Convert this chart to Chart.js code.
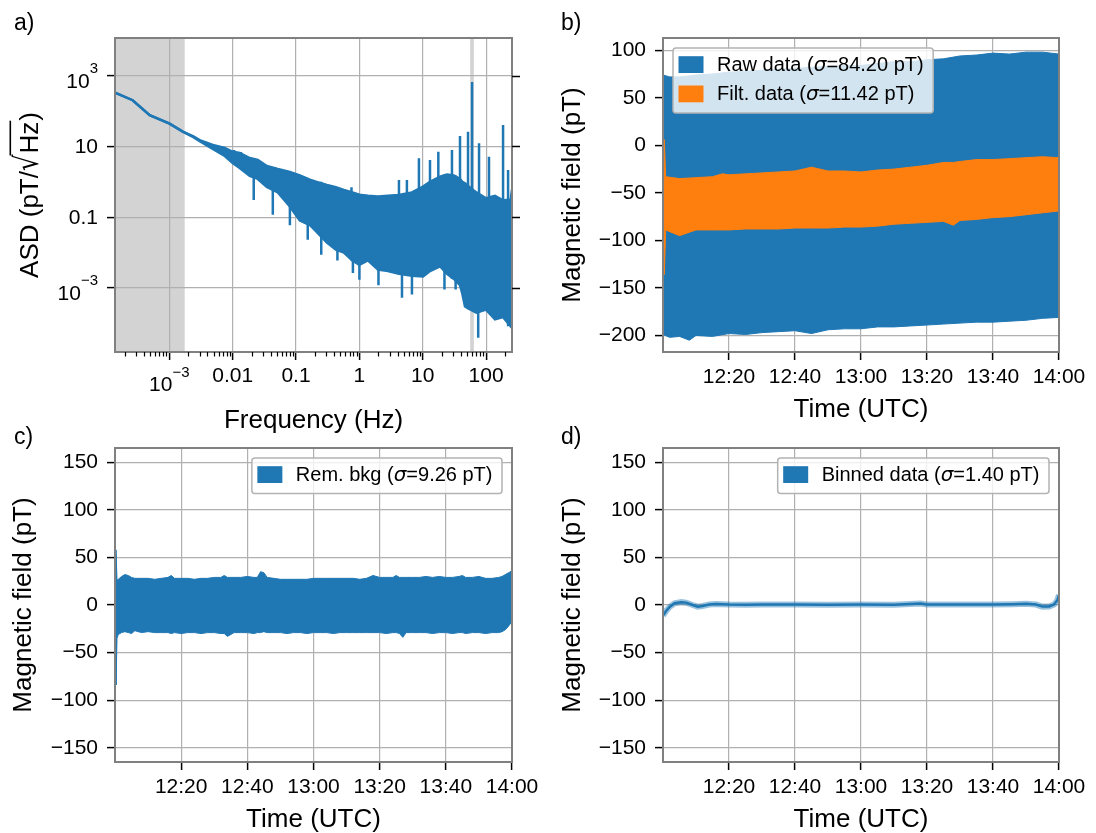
<!DOCTYPE html>
<html>
<head>
<meta charset="utf-8">
<script src="https://cdn.jsdelivr.net/npm/chart.js@4.4.1/dist/chart.umd.min.js"></script>
<style>
  body { margin: 0; background: #fff; }
  #fig { position: relative; width: 1096px; height: 833px; }
  #fig canvas { position: absolute; }
</style>
</head>
<body>
<div id="fig">
  <canvas id="panelA" width="548" height="440" style="left:0;top:0"></canvas>
  <canvas id="panelB" width="548" height="440" style="left:548px;top:0"></canvas>
  <canvas id="panelC" width="548" height="417" style="left:0;top:416px"></canvas>
  <canvas id="panelD" width="548" height="417" style="left:548px;top:416px"></canvas>
</div>
<script>
const BLUE = "#1f77b4";
const ORANGE = "#ff7f0e";
const FONT = '"Liberation Sans", Arial, sans-serif';

// a) amplitude spectral density: band envelope, narrow peaks and dips
const asdFreq  = [1.39e-4, 2.64e-4, 4.9e-4, 1.01e-3, 1.63e-3, 2.4e-3, 3.02e-3, 4.85e-3, 7.5e-3, 0.01,
                  0.0129, 0.0186, 0.0249, 0.0346, 0.0516, 0.0798, 0.1148, 0.165, 0.206, 0.307,
                  0.425, 0.569, 0.774, 1.0, 1.36, 1.96, 2.82, 4.21, 6.75, 10.1,
                  13.0, 18.7, 24.1, 31, 38.7, 42, 46.4, 55, 70, 99.6, 138, 185, 244, 256];
const asdUpper = [327, 201, 76, 43.9, 26.1, 19, 15.0, 10.9, 8.95, 7.0,
                  6.5, 4.68, 4.11, 2.79, 2.30, 1.9, 1.5, 1.15, 1.0, 0.81,
                  0.7, 0.59, 0.5, 0.43, 0.4, 0.38, 0.4, 0.42, 0.5, 0.73,
                  1.0, 1.39, 1.6, 1.5, 1.2, 1.0, 0.9, 0.7, 0.5, 0.34, 0.4, 0.3, 0.31, 0.6];
const asdLower = [327, 201, 76, 43.9, 26.1, 18.2, 14.0, 8.4, 5.33, 3.39,
                  2.45, 1.46, 1.2, 0.714, 0.5, 0.2, 0.08, 0.06, 0.04, 0.019,
                  0.012, 0.0099, 0.006, 0.0045, 0.006, 0.0033, 0.003, 0.0025, 0.0022, 0.0021,
                  0.003, 0.0041, 0.0025, 0.0018, 0.0012, 7e-4, 3.0e-4, 2.5e-4, 2e-4, 2.45e-4, 1.3e-4, 1.5e-4, 8.3e-5, 1.5e-4];
const peakFreq = [0.0105, 0.0135, 0.75, 4.21, 5.62, 8.7, 13.0, 17.6, 28.9, 38.7, 51.8, 60, 77.3, 111, 185, 222];
const peakTop  = [7.9, 6.9, 0.7, 1.12, 1.12, 4.59, 4.11, 7.05, 7.87, 19.5, 25.8, 661, 12.2, 5.09, 39.8, 2.15];
const dipFreq   = [0.0215, 0.043, 0.08, 0.153, 0.25, 0.45, 0.79, 1.0, 2.0, 4.7, 6.75, 22, 33, 75];
const dipBottom = [0.307, 0.116, 0.059, 0.023, 0.0087, 0.006, 0.00265, 0.0017, 0.0012, 5.3e-4, 6.5e-4, 9e-4, 9e-4, 3.9e-5];
const asdXTicks = [1e-3, 0.01, 0.1, 1, 10, 100];
const asdYTicks = [1e3, 10, 0.1, 1e-3];
const minorSteps = [2, 3, 4, 5, 6, 7, 8, 9];
const excludedBands = [[1.39e-4, 1.75e-3], [56, 64]];

// b) raw and filtered field, minutes after 12:00
const rawMinutes = [0, 2, 5, 8, 10, 15, 20, 25, 30, 35, 40, 45, 50, 55, 60, 65, 70, 75, 80, 85, 90, 95, 100, 105, 110, 115, 120];
const rawUpper   = [74, 72, 72, 73, 74, 75, 77, 78, 79, 80, 81, 82, 83, 84, 84, 86, 88, 88, 90, 91, 94, 95, 97, 96, 98, 98, 96];
const rawLower   = [-199, -202, -201, -205, -200, -201, -198, -199, -197, -196, -195, -198, -194, -193, -193, -191, -191, -190, -189, -188, -187, -186, -186, -185, -184, -182, -181];
const filtMinutes = [0, 0.4, 0.8, 5, 10, 15, 18, 20, 25, 30, 35, 40, 45, 50, 55, 60, 65, 70, 75, 80, 85, 88, 90, 95, 100, 105, 110, 115, 120];
const filtUpper   = [-33, 6, -33, -35, -34, -33, -30, -31, -30, -29, -28, -27, -23, -27, -27, -28, -26, -25, -23, -21, -18, -18, -17, -15, -15, -14, -13, -12, -13];
const filtLower   = [-89, -136, -89, -95, -89, -89, -89, -89, -88, -88, -88, -87, -87, -87, -86, -86, -85, -83, -82, -81, -80, -84, -79, -78, -76, -75, -73, -71, -69];

// c) remaining background
const remMinutes = [0, 0.3, 0.6, 1, 2, 3, 4, 5, 6, 8, 10, 12, 14, 16, 17, 18, 20, 22, 24, 26, 28,
                    30, 32, 33, 34, 36, 38, 40, 42, 43, 44, 45, 46, 48, 50, 52, 54, 56, 58, 60, 62,
                    64, 66, 68, 70, 72, 74, 76, 78, 80, 82, 84, 85, 86, 87, 88, 90, 92, 94, 96, 98,
                    100, 102, 104, 105, 106, 108, 110, 112, 114, 116, 117, 118, 119, 120];
const remUpper   = [26, 58, 26, 27, 30, 32, 31, 29, 28, 28, 28, 27, 28, 29, 31, 28, 28, 28, 27, 28, 28,
                    29, 29, 31, 29, 29, 29, 30, 29, 29, 35, 34, 29, 28, 27, 27, 27, 27, 27, 28, 28,
                    28, 28, 28, 28, 28, 27, 28, 31, 29, 29, 29, 31, 29, 29, 29, 29, 29, 30, 29, 30,
                    29, 29, 30, 31, 29, 29, 30, 28, 28, 29, 30, 32, 34, 36];
const remLower   = [-35, -84, -35, -31, -29, -28, -29, -30, -27, -29, -28, -29, -29, -29, -30, -29, -30, -29, -29, -30, -29,
                    -29, -30, -30, -33, -29, -29, -29, -30, -29, -29, -28, -29, -29, -29, -30, -29, -29, -30, -29, -29,
                    -29, -30, -29, -29, -29, -29, -29, -29, -29, -30, -29, -29, -30, -34, -29, -29, -29, -29, -30, -29,
                    -29, -30, -29, -29, -30, -29, -29, -30, -29, -29, -28, -26, -22, -17];

// d) binned data
const binMinutes = [0, 1, 2, 3.5, 5.5, 7, 9, 10.5, 12, 14, 16, 20, 25, 30, 40, 50, 60, 70, 78, 80, 90, 100, 106, 110, 113, 115, 117, 118.5, 119.5, 120];
const binValues  = [-11, -6, -2, 1.8, 3, 2.5, 0, -1.7, -1, 0.5, 1, 0.5, 0.3, 0.6, 0.6, 0.3, 0.5, 0.3, 1.5, 0.5, 0.6, 0.5, 0.8, 1.2, 0.5, -1.7, -1.5, 0.5, 5, 10.5];

const timeTicks = [20, 40, 60, 80, 100, 120];
const timeTickLabels = ["12:20", "12:40", "13:00", "13:20", "13:40", "14:00"];
const fieldTicksB = [-200, -150, -100, -50, 0, 50, 100];
const fieldTicksCD = [-150, -100, -50, 0, 50, 100, 150];

Chart.defaults.font.family = FONT;
Chart.defaults.color = "#000";

const pts = (xs, ys) => xs.map((x, i) => ({ x: x, y: ys[i] }));

function nearest(f) {
  let best = 0;
  asdFreq.forEach((g, i) => {
    if (Math.abs(Math.log(g / f)) < Math.abs(Math.log(asdFreq[best] / f))) best = i;
  });
  return best;
}

// vertical strokes, separated by gaps
function strokes(freqs, ends, other) {
  const out = [];
  freqs.forEach((f, i) => {
    out.push({ x: f, y: ends[i] }, { x: f, y: other[nearest(f)] }, { x: f, y: null });
  });
  return out;
}

const gridStyle = { color: "#b0b0b0", lineWidth: 1.2, tickColor: "#000", tickWidth: 1.5, tickLength: 8 };

function timeAxis(h) {
  return {
    type: "linear", min: 0, max: 120,
    afterBuildTicks: s => { s.ticks = timeTicks.map(v => ({ value: v })); },
    afterFit: s => { s.height = h; },
    ticks: { font: { size: 21 }, color: "#000", padding: 5, maxRotation: 0, autoSkip: false,
             callback: v => timeTickLabels[timeTicks.indexOf(v)] },
    grid: gridStyle,
    border: { display: false }
  };
}

function fieldAxis(min, max, values) {
  return {
    type: "linear", min: min, max: max,
    afterBuildTicks: s => { s.ticks = values.map(v => ({ value: v })); },
    afterFit: s => { s.width = 115; },
    ticks: { font: { size: 21 }, color: "#000", padding: 9,
             callback: v => String(v).replace("-", "\u2212") },
    grid: gridStyle,
    border: { display: false }
  };
}

function drawLabelWithSigma(ctx, text, x, y) {
  const parts = text.split("\u03c3");
  ctx.font = "20px " + FONT;
  ctx.fillText(parts[0], x, y);
  let w = ctx.measureText(parts[0]).width;
  if (parts.length > 1) {
    ctx.font = 'italic 20px "DejaVu Sans", ' + FONT;
    ctx.fillText("\u03c3", x + w, y);
    w += ctx.measureText("\u03c3").width;
    ctx.font = "20px " + FONT;
    ctx.fillText(parts[1], x + w, y);
    w += ctx.measureText(parts[1]).width;
  }
  return w;
}

function measureSigma(ctx, text) {
  ctx.save();
  ctx.globalAlpha = 0;
  const w = drawLabelWithSigma(ctx, text, -1000, -1000);
  ctx.restore();
  return w;
}

function drawSci(ctx, v, x, y, axis) {
  const e = Math.round(Math.log10(v));
  const sup = String(e).replace("-", "\u2212");
  ctx.font = "21px " + FONT;
  const wb = ctx.measureText("10").width;
  ctx.font = "15px " + FONT;
  const ws = ctx.measureText(sup).width;
  ctx.textAlign = "left";
  ctx.textBaseline = "alphabetic";
  let x0, yb, ys;
  if (axis === "x") { x0 = x - (wb + ws) / 2; yb = y + 39; ys = y + 25; }
  else { x0 = x - wb - ws; yb = y + 12; ys = y - 3; }
  ctx.font = "21px " + FONT;
  ctx.fillText("10", x0, yb);
  ctx.font = "15px " + FONT;
  ctx.fillText(sup, x0 + wb, ys);
}

// frame, extra ticks, titles, legend and panel letter
function decor(cfg) {
  return {
    id: "decor",
    beforeDraw(chart) {
      if (!cfg.bands) return;
      const { ctx, chartArea: a } = chart;
      const x = chart.scales.x;
      ctx.save();
      ctx.fillStyle = "#d3d3d3";
      cfg.bands.forEach(b => {
        const p0 = Math.max(x.getPixelForValue(b[0]), a.left);
        const p1 = Math.min(x.getPixelForValue(b[1]), a.right);
        ctx.fillRect(p0, a.top, p1 - p0, a.bottom - a.top);
      });
      ctx.restore();
    },
    afterDatasetsDraw(chart) {
      const { ctx, chartArea: a } = chart;
      ctx.save();
      ctx.strokeStyle = "#808080";
      ctx.lineWidth = 2;
      ctx.strokeRect(a.left, a.top, a.right - a.left, a.bottom - a.top);
      ctx.strokeStyle = "#000";
      ctx.lineWidth = 1.5;
      if (cfg.rightTicks) {
        const y = chart.scales.y;
        asdYTicks.forEach(v => {
          const p = Math.round(y.getPixelForValue(v)) + 0.5;
          ctx.beginPath(); ctx.moveTo(a.right, p); ctx.lineTo(a.right + 8, p); ctx.stroke();
        });
      }
      if (cfg.minorTicks) {
        const x = chart.scales.x;
        ctx.lineWidth = 1.2;
        for (let d = -4; d <= 2; d++) {
          minorSteps.forEach(m => {
            const v = m * Math.pow(10, d);
            if (v <= x.min || v >= x.max) return;
            const p = Math.round(x.getPixelForValue(v)) + 0.5;
            ctx.beginPath(); ctx.moveTo(p, a.bottom); ctx.lineTo(p, a.bottom + 4.5); ctx.stroke();
          });
        }
      }
      ctx.restore();
    },
    afterDraw(chart) {
      const { ctx, chartArea: a } = chart;
      ctx.save();
      ctx.fillStyle = "#000";

      // panel letter
      ctx.font = "23px " + FONT;
      ctx.textAlign = "left";
      ctx.textBaseline = "alphabetic";
      ctx.fillText(cfg.letter[0], cfg.letter[1], cfg.letter[2]);

      // log-axis tick labels
      if (cfg.logLabels) {
        const x = chart.scales.x, y = chart.scales.y;
        asdXTicks.forEach(v => {
          const p = x.getPixelForValue(v);
          if (v >= 0.01 && v <= 100) {
            ctx.font = "21px " + FONT; ctx.textAlign = "center"; ctx.textBaseline = "alphabetic";
            ctx.fillText(String(v), p, a.bottom + 30);
          } else drawSci(ctx, v, p, a.bottom, "x");
        });
        asdYTicks.forEach(v => {
          const p = y.getPixelForValue(v);
          if (v >= 0.01 && v <= 100) {
            ctx.font = "21px " + FONT; ctx.textAlign = "right"; ctx.textBaseline = "middle";
            ctx.fillText(String(v), a.left - 17, p + 1);
          } else drawSci(ctx, v, a.left - 17, p, "y");
        });
      }

      // x title
      ctx.font = "26px " + FONT;
      ctx.textAlign = "center";
      ctx.textBaseline = "alphabetic";
      ctx.fillText(cfg.xTitle, (a.left + a.right) / 2, a.bottom + cfg.xTitleDy);

      // y title
      ctx.save();
      ctx.translate(a.left - cfg.yTitleDx, (a.top + a.bottom) / 2);
      ctx.rotate(-Math.PI / 2);
      ctx.textBaseline = "alphabetic";
      ctx.textAlign = "left";
      if (cfg.yRadical) {
        const [head, rad, tail] = cfg.yRadical;
        const base = 6.8, barY = base - 27.5;
        ctx.font = "26px " + FONT;
        const wHead = ctx.measureText(head).width;
        const wRad = ctx.measureText(rad).width;
        const wTail = ctx.measureText(tail).width;
        ctx.font = '26px "DejaVu Sans"';
        const mRoot = ctx.measureText("\u221a");
        const asc = mRoot.actualBoundingBoxAscent || 20;
        const k = Math.min(1.6, Math.max(1, (base - barY) / asc));
        const total = wHead + mRoot.width + wRad + wTail + 2;
        let x0 = -total / 2;
        ctx.font = "26px " + FONT;
        ctx.fillText(head, x0, base);
        x0 += wHead;
        ctx.save();
        ctx.translate(x0, base);
        ctx.scale(1, k);
        ctx.font = '26px "DejaVu Sans"';
        ctx.fillText("\u221a", 0, 0);
        ctx.restore();
        const barStart = x0 + mRoot.width - 1;
        x0 += mRoot.width + 1;
        ctx.font = "26px " + FONT;
        ctx.fillText(rad, x0, base);
        x0 += wRad + 1;
        const barEnd = x0;
        ctx.fillText(tail, x0, base);
        ctx.strokeStyle = "#000";
        ctx.lineWidth = 1.6;
        ctx.beginPath(); ctx.moveTo(barStart, barY); ctx.lineTo(barEnd, barY); ctx.stroke();
      } else {
        ctx.font = "26px " + FONT;
        ctx.textAlign = "center";
        ctx.fillText(cfg.yTitle, 0, 6.8);
      }
      ctx.restore();

      // legend
      if (cfg.legend) {
        const items = cfg.legend.indices.map(i => chart.data.datasets[i]);
        const widths = items.map(ds => measureSigma(ctx, ds.label));
        const w = 44 + Math.max(...widths) + 9.5;
        const h = 35.6 + (items.length - 1) * 29.3;
        const x0 = cfg.legend.side === "left" ? a.left + 10 : a.right - 10 - w;
        const y0 = a.top + 10;
        ctx.beginPath();
        ctx.roundRect(x0, y0, w, h, 3);
        ctx.fillStyle = "rgba(255,255,255,0.8)";
        ctx.fill();
        ctx.strokeStyle = "#b3b3b3";
        ctx.lineWidth = 1.5;
        ctx.stroke();
        items.forEach((ds, k) => {
          const yc = y0 + 16.5 + k * 29.3;
          ctx.fillStyle = ds.backgroundColor;
          ctx.fillRect(x0 + 5.5, yc - 8.3, 25, 16.8);
          ctx.fillStyle = "#000";
          ctx.textAlign = "left";
          ctx.textBaseline = "middle";
          drawLabelWithSigma(ctx, ds.label, x0 + 44, yc + 1);
        });
      }
      ctx.restore();
    }
  };
}

const baseOptions = (padding, scales) => ({
  responsive: false,
  animation: false,
  devicePixelRatio: 1,
  events: [],
  layout: { padding: padding, autoPadding: false },
  elements: { point: { radius: 0 }, line: { tension: 0 } },
  plugins: { legend: { display: false }, tooltip: { enabled: false } },
  scales: scales
});

// a) spectrum
new Chart(document.getElementById("panelA"), {
  type: "line",
  data: {
    datasets: [
      { data: pts(asdFreq, asdUpper), borderColor: BLUE, borderWidth: 2.5, fill: false },
      { data: pts(asdFreq, asdLower), borderColor: BLUE, borderWidth: 2.5, backgroundColor: BLUE, fill: "-1" },
      { data: strokes(peakFreq, peakTop, asdLower), borderColor: BLUE, borderWidth: 2.5, fill: false, spanGaps: false },
      { data: strokes(dipFreq, dipBottom, asdUpper), borderColor: BLUE, borderWidth: 2.5, fill: false, spanGaps: false }
    ]
  },
  options: baseOptions({ left: 0, top: 38, right: 36, bottom: 0 }, {
    x: {
      type: "logarithmic", min: 1.39e-4, max: 256,
      afterBuildTicks: s => { s.ticks = asdXTicks.map(v => ({ value: v })); },
      afterFit: s => { s.height = 88; },
      ticks: { display: false },
      grid: gridStyle, border: { display: false }
    },
    y: {
      type: "logarithmic", min: 1.55e-5, max: 1.15e4,
      afterBuildTicks: s => { s.ticks = asdYTicks.map(v => ({ value: v })); },
      afterFit: s => { s.width = 115; },
      ticks: { display: false },
      grid: gridStyle, border: { display: false }
    }
  }),
  plugins: [decor({
    letter: ["a)", 14, 30], bands: excludedBands, rightTicks: true, minorTicks: true, logLabels: true,
    xTitle: "Frequency (Hz)", xTitleDy: 76,
    yRadical: ["ASD (pT/", "Hz", ")"], yTitleDx: 84
  })]
});

// b) raw vs filtered (orange drawn on top)
new Chart(document.getElementById("panelB"), {
  type: "line",
  data: {
    datasets: [
      { data: pts(rawMinutes, rawUpper), borderColor: BLUE, borderWidth: 1, fill: false, order: 2 },
      { label: "Raw data (\u03c3=84.20 pT)", data: pts(rawMinutes, rawLower), borderColor: BLUE, borderWidth: 1, backgroundColor: BLUE, fill: "-1", order: 2 },
      { data: pts(filtMinutes, filtUpper), borderColor: ORANGE, borderWidth: 1, fill: false, order: 1 },
      { label: "Filt. data (\u03c3=11.42 pT)", data: pts(filtMinutes, filtLower), borderColor: ORANGE, borderWidth: 1, backgroundColor: ORANGE, fill: "-1", order: 1 }
    ]
  },
  options: baseOptions({ left: 0, top: 38, right: 37, bottom: 0 }, {
    x: timeAxis(88),
    y: fieldAxis(-217.4, 112.9, fieldTicksB)
  }),
  plugins: [decor({
    letter: ["b)", 13, 30], xTitle: "Time (UTC)", xTitleDy: 65,
    yTitle: "Magnetic field (pT)", yTitleDx: 90.3,
    legend: { indices: [1, 3], side: "left" }
  })]
});

// c) remaining background
new Chart(document.getElementById("panelC"), {
  type: "line",
  data: {
    datasets: [
      { data: pts(remMinutes, remUpper), borderColor: BLUE, borderWidth: 1, fill: false },
      { label: "Rem. bkg (\u03c3=9.26 pT)", data: pts(remMinutes, remLower), borderColor: BLUE, borderWidth: 1, backgroundColor: BLUE, fill: "-1" }
    ]
  },
  options: baseOptions({ left: 0, top: 32, right: 36, bottom: 0 }, {
    x: timeAxis(71),
    y: fieldAxis(-165, 165, fieldTicksCD)
  }),
  plugins: [decor({
    letter: ["c)", 14, 27.5], xTitle: "Time (UTC)", xTitleDy: 65,
    yTitle: "Magnetic field (pT)", yTitleDx: 91,
    legend: { indices: [1], side: "right" }
  })]
});

// d) binned data: dark core over a lighter spread
new Chart(document.getElementById("panelD"), {
  type: "line",
  data: {
    datasets: [
      { label: "Binned data (\u03c3=1.40 pT)", data: pts(binMinutes, binValues), borderColor: BLUE, borderWidth: 2.5, backgroundColor: BLUE, fill: false, order: 1 },
      { data: pts(binMinutes, binValues), borderColor: "rgba(31,119,180,0.45)", borderWidth: 6, fill: false, order: 2 }
    ]
  },
  options: baseOptions({ left: 0, top: 32, right: 37, bottom: 0 }, {
    x: timeAxis(71),
    y: fieldAxis(-165, 165, fieldTicksCD)
  }),
  plugins: [decor({
    letter: ["d)", 13, 27.5], xTitle: "Time (UTC)", xTitleDy: 65,
    yTitle: "Magnetic field (pT)", yTitleDx: 90.3,
    legend: { indices: [0], side: "right" }
  })]
});
</script>
</body>
</html>
